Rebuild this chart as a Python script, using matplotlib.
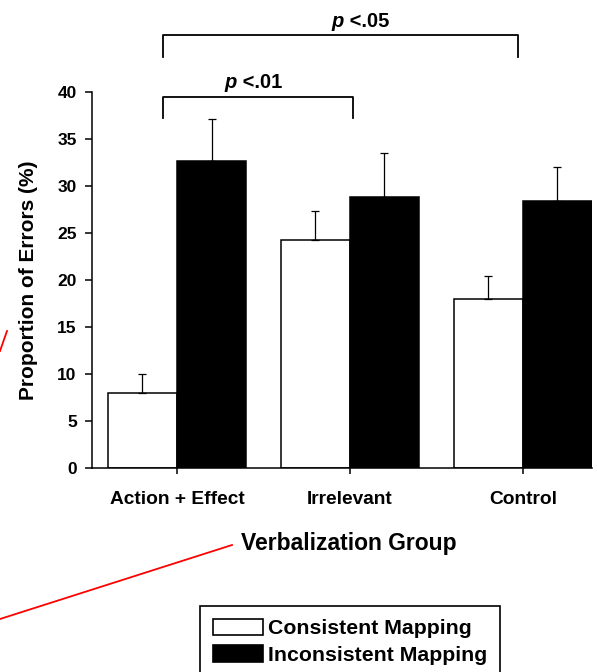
import matplotlib
matplotlib.use("Agg")
import matplotlib.pyplot as plt
from matplotlib.lines import Line2D
from matplotlib.patches import Patch
import numpy as np

plt.rcParams['font.family'] = ['Liberation Sans', 'DejaVu Sans']
plt.rcParams['font.weight'] = 'bold'

groups = ["Action + Effect", "Irrelevant", "Control"]
consistent = [8.0, 24.3, 18.0]
consistent_err = [2.0, 3.0, 2.45]
inconsistent = [32.7, 28.8, 28.4]
inconsistent_err = [4.45, 4.7, 3.6]
series_names = ["Consistent Mapping", "Inconsistent Mapping"]
yticks = [0, 5, 10, 15, 20, 25, 30, 35, 40]

W, H = 597, 672
fig = plt.figure(figsize=(W / 100, H / 100), dpi=100)
ax = fig.add_axes([92 / W, 1 - 468 / H, 500 / W, 376 / H])

x = np.arange(len(groups))
bw = 0.4
ax.bar(x - bw / 2, consistent, width=bw, color='white', edgecolor='black', linewidth=1.1, zorder=2)
ax.bar(x + bw / 2, inconsistent, width=bw, color='black', edgecolor='black', linewidth=1.1, zorder=2)
ax.errorbar(x - bw / 2, consistent, yerr=[np.zeros(3), consistent_err], fmt='none',
            ecolor='black', elinewidth=0.9, capsize=3, capthick=0.9, zorder=3)
ax.errorbar(x + bw / 2, inconsistent, yerr=[np.zeros(3), inconsistent_err], fmt='none',
            ecolor='black', elinewidth=0.9, capsize=3, capthick=0.9, zorder=3)

ax.set_xlim(-0.491, 2.4)
ax.set_ylim(0, 40)
ax.set_yticks(yticks)
ax.set_yticklabels([str(t) for t in yticks], fontsize=12.5, fontweight='bold')
ax.set_xticks(x)
ax.set_xticklabels(groups, fontsize=13.8, fontweight='bold')
ax.tick_params(axis='y', direction='out', length=5, width=1.1, pad=6)
ax.tick_params(axis='x', direction='out', length=4.5, width=1.1, pad=12)
for s in ['top', 'right']:
    ax.spines[s].set_visible(False)
for s in ['left', 'bottom']:
    ax.spines[s].set_linewidth(1.1)

ax.set_ylabel("Proportion of Errors (%)", fontsize=15, fontweight='bold')
ax.yaxis.set_label_coords(-0.126, 0.5)
ax.yaxis.label.set_verticalalignment('center')
ax.set_xlabel("Verbalization Group", fontsize=16.5, fontweight='bold')
ax.xaxis.set_label_coords(0.514, -0.218)
ax.xaxis.label.set_verticalalignment('baseline')

# significance brackets
def bracket(x0, x1, ytop, ybot):
    ax.plot([x0, x0, x1, x1], [ybot, ytop, ytop, ybot], color='black', lw=1.3,
            clip_on=False, solid_joinstyle='round')

bracket(-0.081, 1.017, 39.5, 37.2)
bracket(-0.081, 1.971, 46.1, 43.7)

def ptext(xb, y, rest):
    ax.text(xb, y, "p", ha='right', va='baseline', fontsize=14.5, fontweight='bold',
            fontstyle='italic', clip_on=False)
    ax.text(xb, y, " " + rest, ha='left', va='baseline', fontsize=14.5, fontweight='bold',
            clip_on=False)

ptext(0.345, 40.4, "<.01")
ptext(0.965, 46.9, "<.05")

# legend
handles = [Patch(facecolor='white', edgecolor='black', linewidth=1.2),
           Patch(facecolor='black', edgecolor='black', linewidth=1.2)]
leg = fig.legend(handles, series_names, loc='upper left',
                 bbox_to_anchor=(200 / W, 1 - 606 / H), bbox_transform=fig.transFigure,
                 prop={'weight': 'bold', 'size': 15.3}, handlelength=2.35, handleheight=0.82,
                 handletextpad=0.25, labelspacing=0.33, borderpad=0.6, borderaxespad=0,
                 fancybox=False, framealpha=1)
leg.get_frame().set_edgecolor('black')
leg.get_frame().set_linewidth(1.2)

# red annotation strokes
fig.add_artist(Line2D([0 / W, 232 / W], [1 - 619 / H, 1 - 545 / H], color='red', lw=1.3,
                      transform=fig.transFigure))
fig.add_artist(Line2D([0 / W, 7 / W], [1 - 351 / H, 1 - 331 / H], color='red', lw=1.3,
                      transform=fig.transFigure))

fig.savefig("out.png", dpi=100)
